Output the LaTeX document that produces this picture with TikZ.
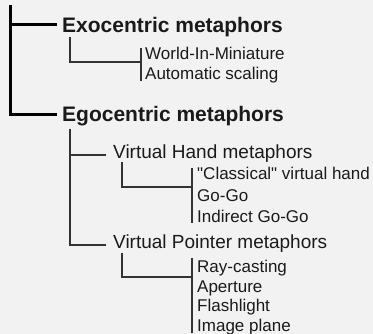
\documentclass[tikz,border=0pt]{standalone}
\usepackage{fontspec}
\setmainfont{Liberation Sans}
\usetikzlibrary{positioning, calc}
\definecolor{bgcol}{HTML}{F2F2F2}
\definecolor{inkcol}{HTML}{1A1A1A}
\definecolor{wirecol}{HTML}{333333}

\begin{document}
\begin{tikzpicture}
    [x=1pt, y=-1pt,
    headnode/.style={font=\bfseries\fontsize{21}{21}\selectfont, anchor=base west, inner sep=0pt, text=inkcol},
    subnode/.style={font=\fontsize{19}{19}\selectfont, anchor=base west, inner sep=0pt, text=inkcol},
    leafnode/.style={font=\fontsize{17}{17}\selectfont, anchor=base west, inner sep=0pt, text=inkcol},
    trunk/.style={draw=black, line width=3pt},
    branch/.style={draw=wirecol, line width=1.1pt},]

    \fill[bgcol] (0,0) rectangle (373,334);
    \useasboundingbox (0,0) rectangle (373,334);

    %Nodes
    \node[headnode](exo) at (62,32.5){Exocentric metaphors};
    \node[headnode](ego) at (62,122){Egocentric metaphors};

    \node[leafnode](wim) at (145,60){World-In-Miniature};
    \node[leafnode](autoscale) at (145,80){Automatic scaling};

    \node[subnode](hand) at (113,159){Virtual Hand metaphors};
    \node[subnode](pointer) at (113,249){Virtual Pointer metaphors};

    \node[leafnode](classic) at (197,180){\textquotedbl Classical\textquotedbl{} virtual hand};
    \node[leafnode](gogo) at (197,201.5){Go-Go};
    \node[leafnode](indgogo) at (197,223){Indirect Go-Go};

    \node[leafnode](raycast) at (197,273){Ray-casting};
    \node[leafnode](aperture) at (197,292.5){Aperture};
    \node[leafnode](flashlight) at (197,312){Flashlight};
    \node[leafnode](imgplane) at (197,332){Image plane};

    %Joints
    \coordinate (root) at (10.5,5);
    \coordinate (exo-in) at ($(exo.base west)+(-5,-7.5)$);
    \coordinate (ego-in) at ($(ego.base west)+(-5,-7)$);
    \coordinate (exo-drop) at ($(exo.base west)+(8,4.5)$);
    \coordinate (ego-drop) at ($(ego.base west)+(8,7)$);
    \coordinate (hand-in) at ($(hand.base west)+(-7,-4)$);
    \coordinate (pointer-in) at ($(pointer.base west)+(-7,-4)$);
    \coordinate (hand-drop) at ($(hand.base west)+(9,3)$);
    \coordinate (pointer-drop) at ($(pointer.base west)+(9,4)$);
    \coordinate (exo-join) at ($(wim.base west)+(-4,2)$);
    \coordinate (hand-join) at ($(classic.base west)+(-5,7)$);
    \coordinate (pointer-join) at ($(raycast.base west)+(-5,4)$);

    %Lines
    \draw[trunk] (root) |- (ego-in);
    \draw[trunk] (root |- exo-in) -- (exo-in);

    \draw[branch] (exo-drop) |- (exo-join);
    \draw[branch] ($(wim.base west)+(-4,-12)$) -- ($(autoscale.base west)+(-4,1)$);

    \draw[branch] (ego-drop) |- (pointer-in);
    \draw[branch] (ego-drop |- hand-in) -- (hand-in);

    \draw[branch] (hand-drop) |- (hand-join);
    \draw[branch] ($(classic.base west)+(-5,-12)$) -- ($(indgogo.base west)+(-5,0.5)$);

    \draw[branch] (pointer-drop) |- (pointer-join);
    \draw[branch] ($(raycast.base west)+(-5,-15)$) -- ($(imgplane.base west)+(-5,1)$);
\end{tikzpicture}
\end{document}
